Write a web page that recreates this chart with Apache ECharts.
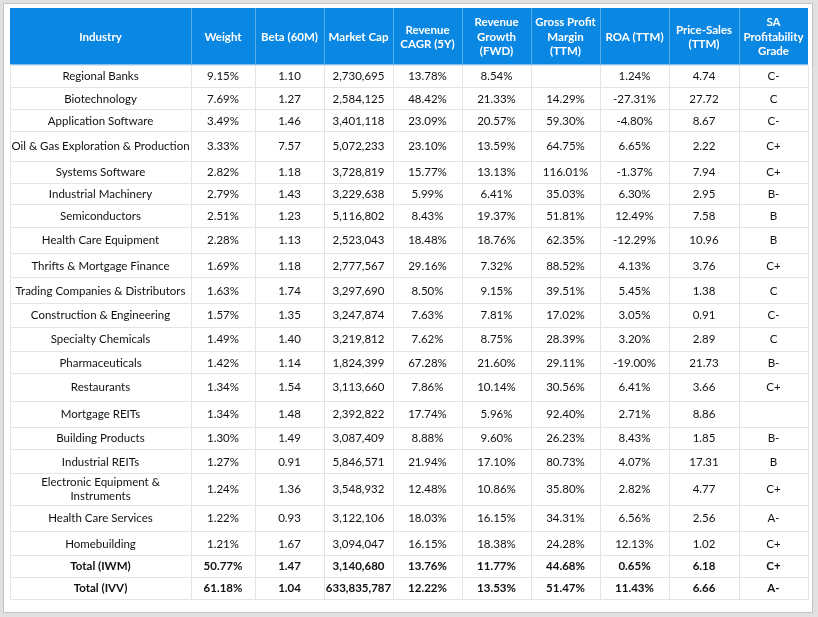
<!DOCTYPE html>
<html><head><meta charset="utf-8">
<script src="https://cdn.jsdelivr.net/npm/echarts@6/dist/echarts.min.js"></script>
<style>html,body{margin:0;padding:0;background:#e1e1e1}#c{width:818px;height:617px}</style>
</head><body><div id="c"></div>
<script>
// ---------- data ----------
const headers = ['Industry','Weight','Beta (60M)','Market Cap','Revenue\nCAGR (5Y)','Revenue\nGrowth\n(FWD)','Gross Profit\nMargin\n(TTM)','ROA (TTM)','Price-Sales\n(TTM)','SA\nProfitability\nGrade'];
const industries = ['Regional Banks','Biotechnology','Application Software','Oil & Gas Exploration & Production','Systems Software','Industrial Machinery','Semiconductors','Health Care Equipment','Thrifts & Mortgage Finance','Trading Companies & Distributors','Construction & Engineering','Specialty Chemicals','Pharmaceuticals','Restaurants','Mortgage REITs','Building Products','Industrial REITs','Electronic Equipment &\nInstruments','Health Care Services','Homebuilding','Total (IWM)','Total (IVV)'];
const weight = [9.15,7.69,3.49,3.33,2.82,2.79,2.51,2.28,1.69,1.63,1.57,1.49,1.42,1.34,1.34,1.30,1.27,1.24,1.22,1.21,50.77,61.18];
const beta = [1.10,1.27,1.46,7.57,1.18,1.43,1.23,1.13,1.18,1.74,1.35,1.40,1.14,1.54,1.48,1.49,0.91,1.36,0.93,1.67,1.47,1.04];
const marketCap = [2730695,2584125,3401118,5072233,3728819,3229638,5116802,2523043,2777567,3297690,3247874,3219812,1824399,3113660,2392822,3087409,5846571,3548932,3122106,3094047,3140680,633835787];
const revCagr = [13.78,48.42,23.09,23.10,15.77,5.99,8.43,18.48,29.16,8.50,7.63,7.62,67.28,7.86,17.74,8.88,21.94,12.48,18.03,16.15,13.76,12.22];
const revGrowth = [8.54,21.33,20.57,13.59,13.13,6.41,19.37,18.76,7.32,9.15,7.81,8.75,21.60,10.14,5.96,9.60,17.10,10.86,16.15,18.38,11.77,13.53];
const grossMargin = [null,14.29,59.30,64.75,116.01,35.03,51.81,62.35,88.52,39.51,17.02,28.39,29.11,30.56,92.40,26.23,80.73,35.80,34.31,24.28,44.68,51.47];
const roa = [1.24,-27.31,-4.80,6.65,-1.37,6.30,12.49,-12.29,4.13,5.45,3.05,3.20,-19.00,6.41,2.71,8.43,4.07,2.82,6.56,12.13,0.65,11.43];
const priceSales = [4.74,27.72,8.67,2.22,7.94,2.95,7.58,10.96,3.76,1.38,0.91,2.89,21.73,3.66,8.86,1.85,17.31,4.77,2.56,1.02,6.18,6.66];
const grade = ['C-','C','C-','C+','C+','B-','B','B','C+','C','C-','C','B-','C+','','B-','B','C+','A-','C+','C+','A-'];
const boldRows = 2; // last two rows are totals

// ---------- layout ----------
const colEdges = [10,191,255,324,393,462,531,600,669,739,808];
const headerTop = 8;
const rowEdges = [64.5,87.3,109.3,131.3,160.5,182.7,204,226.7,253.3,277.3,303.3,326.7,351.3,373.3,400.7,426.7,449.3,473.3,504.7,531.3,555.3,576.7,599.3];
const FONT = 'Lato, "Noto Sans", sans-serif';
const FS = '11.5px ';

const pct = v => v == null ? '' : v.toFixed(2) + '%';
const n2 = v => v == null ? '' : v.toFixed(2);
const cap = v => v.toLocaleString('en-US');
const columns = [
  r => industries[r], r => pct(weight[r]), r => n2(beta[r]), r => cap(marketCap[r]),
  r => pct(revCagr[r]), r => pct(revGrowth[r]), r => pct(grossMargin[r]), r => pct(roa[r]),
  r => n2(priceSales[r]), r => grade[r]
];

const headerData = headers.map((h, c) => [c, -1]);
const bodyData = [];
industries.forEach((_, r) => { for (let c = 0; c < headers.length; c++) bodyData.push([c, r]); });

function renderHeader(params, api) {
  const c = api.value(0);
  const p0 = api.coord([colEdges[c], headerTop]);
  const p1 = api.coord([colEdges[c + 1], rowEdges[0]]);
  const children = [{
    type: 'rect', shape: { x: p0[0], y: p0[1], width: p1[0] - p0[0], height: p1[1] - p0[1] },
    style: { fill: '#0a87e2' }
  }, {
    type: 'text',
    style: { text: headers[c], x: (p0[0] + p1[0]) / 2, y: (p0[1] + p1[1]) / 2 + 1, align: 'center', verticalAlign: 'middle',
      fill: '#ffffff', font: 'bold ' + FS + FONT, lineHeight: 14.5 }
  }];
  if (c > 0) {
    const x = Math.round(p0[0]) + 0.5;
    children.push({ type: 'line', shape: { x1: x, y1: p0[1], x2: x, y2: p1[1] }, style: { stroke: '#58adeb', lineWidth: 1 } });
  }
  return { type: 'group', children };
}

function renderBody(params, api) {
  const c = api.value(0), r = api.value(1);
  const p0 = api.coord([colEdges[c], rowEdges[r]]);
  const p1 = api.coord([colEdges[c + 1], rowEdges[r + 1]]);
  const x0 = Math.round(p0[0]) + 0.5, y0 = Math.round(p0[1]) + 0.5;
  const x1 = Math.round(p1[0]) + 0.5, y1 = Math.round(p1[1]) + 0.5;
  const bold = r >= industries.length - boldRows;
  return { type: 'group', children: [{
    type: 'rect', shape: { x: x0, y: y0, width: x1 - x0, height: y1 - y0 },
    style: { fill: '#ffffff', stroke: '#e4e4e4', lineWidth: 1 }
  }, {
    type: 'text',
    style: { text: columns[c](r), x: (p0[0] + p1[0]) / 2, y: (p0[1] + p1[1]) / 2 + 0.5, align: 'center', verticalAlign: 'middle',
      fill: '#111111', font: (bold ? 'bold ' : '') + FS + FONT, lineHeight: 14 }
  }]};
}

const chart = echarts.init(document.getElementById('c'), null, { renderer: 'canvas' });
chart.setOption({
  backgroundColor: '#e1e1e1',
  animation: false,
  graphic: [{ type: 'rect', z: -10, shape: { x: 3.5, y: 3.5, width: 809, height: 609 },
    style: { fill: '#ffffff', stroke: '#c4c4c4', lineWidth: 1 } }],
  grid: { left: 0, right: 0, top: 0, bottom: 0 },
  xAxis: { type: 'value', min: 0, max: 818, show: false },
  yAxis: { type: 'value', min: 0, max: 617, inverse: true, show: false },
  series: [
    { type: 'custom', data: bodyData, renderItem: renderBody, clip: false, z: 2, silent: true },
    { type: 'custom', data: headerData, renderItem: renderHeader, clip: false, z: 3, silent: true }
  ]
});
</script></body></html>
